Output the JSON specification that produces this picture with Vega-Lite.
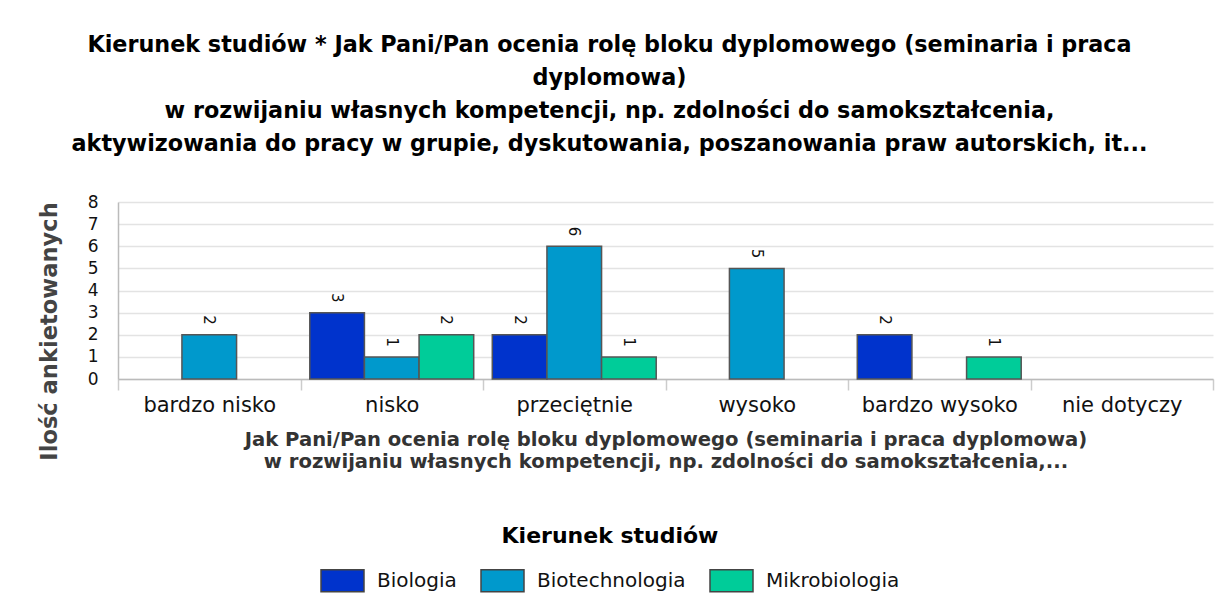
{
  "$schema": "https://vega.github.io/schema/vega-lite/v6.json",
  "width": 1095,
  "height": 177,
  "autosize": {"type": "none"},
  "padding": {"left": 118, "top": 202, "right": 5, "bottom": 229},
  "background": "white",
  "title": {
    "text": [
      "Kierunek studiów * Jak Pani/Pan ocenia rolę bloku dyplomowego (seminaria i praca",
      "dyplomowa)",
      "w rozwijaniu własnych kompetencji, np. zdolności do samokształcenia,",
      "aktywizowania do pracy w grupie, dyskutowania, poszanowania praw autorskich, it..."
    ],
    "font": "DejaVu Sans",
    "fontSize": 22.3,
    "fontWeight": "bold",
    "color": "#000000",
    "lineHeight": 33,
    "anchor": "middle",
    "frame": "group",
    "dx": -56,
    "offset": 38
  },
  "config": {
    "view": {"stroke": null}
  },
  "data": {
    "values": [
      {"ocena": "bardzo nisko", "kierunek": "Biotechnologia", "liczba": 2},
      {"ocena": "nisko", "kierunek": "Biologia", "liczba": 3},
      {"ocena": "nisko", "kierunek": "Biotechnologia", "liczba": 1},
      {"ocena": "nisko", "kierunek": "Mikrobiologia", "liczba": 2},
      {"ocena": "przeciętnie", "kierunek": "Biologia", "liczba": 2},
      {"ocena": "przeciętnie", "kierunek": "Biotechnologia", "liczba": 6},
      {"ocena": "przeciętnie", "kierunek": "Mikrobiologia", "liczba": 1},
      {"ocena": "wysoko", "kierunek": "Biotechnologia", "liczba": 5},
      {"ocena": "bardzo wysoko", "kierunek": "Biologia", "liczba": 2},
      {"ocena": "bardzo wysoko", "kierunek": "Mikrobiologia", "liczba": 1}
    ]
  },
  "encoding": {
    "x": {
      "field": "ocena",
      "type": "nominal",
      "sort": null,
      "scale": {
        "domain": ["bardzo nisko", "nisko", "przeciętnie", "wysoko", "bardzo wysoko", "nie dotyczy"],
        "paddingInner": 0,
        "paddingOuter": 0
      },
      "axis": {
        "labelAngle": 0,
        "labelFont": "DejaVu Sans",
        "labelFontSize": 21,
        "labelColor": "#111111",
        "labelPadding": 4,
        "tickBand": "extent",
        "tickSize": 11,
        "tickColor": "#cccccc",
        "tickWidth": 1.5,
        "domainColor": "#bbbbbb",
        "domainWidth": 1.5,
        "title": [
          "Jak Pani/Pan ocenia rolę bloku dyplomowego (seminaria i praca dyplomowa)",
          "w rozwijaniu własnych kompetencji, np. zdolności do samokształcenia,..."
        ],
        "titleFont": "DejaVu Sans",
        "titleFontSize": 19.6,
        "titleFontWeight": "bold",
        "titleColor": "#333333",
        "titleLineHeight": 22,
        "titleBaseline": "alphabetic",
        "titleY": 66
      }
    },
    "xOffset": {
      "field": "kierunek",
      "type": "nominal",
      "scale": {
        "domain": ["Biologia", "Biotechnologia", "Mikrobiologia"],
        "paddingInner": 0,
        "paddingOuter": 0.17
      }
    },
    "y": {
      "field": "liczba",
      "type": "quantitative",
      "scale": {"domain": [0, 8], "nice": false},
      "axis": {
        "values": [0, 1, 2, 3, 4, 5, 6, 7, 8],
        "ticks": false,
        "labelPadding": 20,
        "labelFont": "DejaVu Sans",
        "labelFontSize": 17,
        "labelColor": "#111111",
        "domainColor": "#bbbbbb",
        "domainWidth": 1.5,
        "gridColor": "#e3e3e3",
        "gridWidth": 1.5,
        "title": "Ilość ankietowanych",
        "titleFont": "DejaVu Sans",
        "titleFontSize": 22.6,
        "titleFontWeight": "bold",
        "titleColor": "#444444",
        "titleAngle": -90,
        "titleAlign": "center",
        "titleBaseline": "middle",
        "titleX": -69,
        "titleY": 129
      }
    }
  },
  "layer": [
    {
      "mark": {"type": "bar", "stroke": "#555555", "strokeWidth": 1.5},
      "encoding": {
        "color": {
          "field": "kierunek",
          "type": "nominal",
          "scale": {
            "domain": ["Biologia", "Biotechnologia", "Mikrobiologia"],
            "range": ["#0033cc", "#0099cc", "#00cc99"]
          },
          "legend": {
            "title": "Kierunek studiów",
            "orient": "none",
            "direction": "horizontal",
            "legendX": 202,
            "legendY": 324,
            "padding": 0,
            "titleOrient": "top",
            "titleAnchor": "middle",
            "titleLimit": 1000,
            "titleFont": "DejaVu Sans",
            "titleFontSize": 22,
            "titleFontWeight": "bold",
            "titleColor": "#000000",
            "titlePadding": 10,
            "labelFont": "DejaVu Sans",
            "labelFontSize": 20,
            "labelLimit": 400,
            "labelColor": "#111111",
            "labelOffset": 12,
            "columnPadding": 21,
            "symbolType": "M-1,-0.51H1V0.51H-1Z",
            "symbolSize": 1849,
            "symbolStrokeColor": "#444444",
            "symbolStrokeWidth": 1.5,
            "symbolOpacity": 1
          }
        }
      }
    },
    {
      "mark": {
        "type": "text",
        "angle": 90,
        "align": "right",
        "baseline": "middle",
        "dx": -10,
        "font": "DejaVu Sans",
        "fontSize": 15,
        "color": "#111111"
      },
      "encoding": {
        "text": {"field": "liczba", "type": "quantitative"}
      }
    }
  ]
}
